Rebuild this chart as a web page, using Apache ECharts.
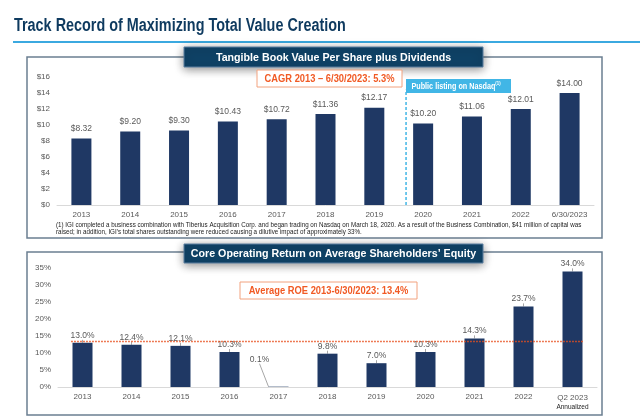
<!DOCTYPE html>
<html><head><meta charset="utf-8">
<script src="https://cdn.jsdelivr.net/npm/echarts@6/dist/echarts.min.js"></script>
<style>html,body{margin:0;padding:0;background:#fff}#c{width:640px;height:417px}</style>
</head><body><div id="c"></div>
<script>
// ---- data ----
const tbvCategories = ['2013','2014','2015','2016','2017','2018','2019','2020','2021','2022','6/30/2023'];
const tbvValues = [8.32, 9.20, 9.30, 10.43, 10.72, 11.36, 12.17, 10.20, 11.06, 12.01, 14.00];
const tbvAxisMax = 16, tbvAxisStep = 2;
const roeCategories = ['2013','2014','2015','2016','2017','2018','2019','2020','2021','2022','Q2 2023'];
const roeValues = [13.0, 12.4, 12.1, 10.3, 0.1, 9.8, 7.0, 10.3, 14.3, 23.7, 34.0];
const roeAxisMax = 35, roeAxisStep = 5;
const roeAverage = 13.4;
const nasdaqListingPos = 6.65;   // between 2019 and 2020
const nasdaqLineTop = 14.4;

const FONT = '"Liberation Sans",Arial,sans-serif';
const NAVY = '#1f3864';
const GREY = '#595959';

const chart = echarts.init(document.getElementById('c'), null, {renderer: 'canvas'});

function titleBox(x, y, w, h, text) {
  return [
    {type: 'rect', z: 19, shape: {x: x, y: y, width: w, height: h},
     style: {fill: '#0f4266', stroke: '#5a7ea0', lineWidth: 1, shadowBlur: 10, shadowColor: 'rgba(0,0,0,0.45)', shadowOffsetY: 2}},
    {type: 'text', z: 21, x: x + w / 2, y: y + h / 2 + 0.5, scaleX: 0.97,
     style: {text: text, fill: '#fff', font: 'bold 11px ' + FONT, align: 'center', verticalAlign: 'middle',
             shadowBlur: 0, shadowColor: 'rgba(0,0,0,0)', textShadowBlur: 0, textShadowColor: 'rgba(0,0,0,0)'}}
  ];
}
function noteBox(x, y, w, h, text) {
  return [
    {type: 'rect', z: 20, shape: {x: x, y: y, width: w, height: h},
     style: {fill: '#fff', stroke: '#f2a27f', lineWidth: 1}},
    {type: 'text', z: 21, x: x + w / 2, y: y + h / 2 + 0.5, scaleX: 0.85,
     style: {text: text, fill: '#f15a24', font: 'bold 11px ' + FONT, align: 'center', verticalAlign: 'middle'}}
  ];
}

const axisLabel = {color: GREY, fontSize: 8, fontFamily: FONT};

chart.setOption({
  animation: false,
  grid: [
    {left: 57, right: 46, top: 77, bottom: 212},
    {left: 58, right: 43, top: 268, bottom: 30}
  ],
  xAxis: [
    {gridIndex: 0, type: 'category', data: tbvCategories,
     axisLine: {lineStyle: {color: '#d9d9d9'}}, axisTick: {lineStyle: {color: '#d9d9d9'}, length: 4},
     axisLabel: Object.assign({margin: 6, interval: 0}, axisLabel)},
    {gridIndex: 0, type: 'value', min: -0.5, max: 10.5, show: false},
    {gridIndex: 1, type: 'category', data: roeCategories,
     axisLine: {lineStyle: {color: '#d9d9d9'}}, axisTick: {lineStyle: {color: '#d9d9d9'}, length: 4},
     axisLabel: Object.assign({margin: 6, interval: 0,
       formatter: function (v) { return v === 'Q2 2023' ? '{a|' + v + '}\n{b|Annualized}' : v; },
       rich: {a: {color: GREY, fontSize: 8, fontFamily: FONT, lineHeight: 10},
              b: {color: '#222', fontSize: 6.5, fontFamily: FONT, lineHeight: 9}}}, axisLabel)},
    {gridIndex: 1, type: 'value', min: -0.5, max: 10.5, show: false}
  ],
  yAxis: [
    {gridIndex: 0, type: 'value', min: 0, max: tbvAxisMax, interval: tbvAxisStep,
     axisLine: {show: false}, axisTick: {show: false}, splitLine: {show: false},
     axisLabel: Object.assign({margin: 7, formatter: function (v) { return '$' + v; }}, axisLabel)},
    {gridIndex: 1, type: 'value', min: 0, max: roeAxisMax, interval: roeAxisStep,
     axisLine: {show: false}, axisTick: {show: false}, splitLine: {show: false},
     axisLabel: Object.assign({margin: 7, formatter: function (v) { return v + '%'; }}, axisLabel)}
  ],
  series: [
    {type: 'bar', xAxisIndex: 0, yAxisIndex: 0, data: tbvValues, barWidth: 20,
     itemStyle: {color: NAVY},
     label: {show: true, position: 'top', distance: 5, color: GREY, fontSize: 8.5, fontFamily: FONT,
             formatter: function (p) { return '$' + p.value.toFixed(2); }}},
    {type: 'line', xAxisIndex: 1, yAxisIndex: 0, symbol: 'none', z: 5,
     data: [[nasdaqListingPos, 0], [nasdaqListingPos, nasdaqLineTop]],
     lineStyle: {color: '#41b6e6', width: 1.5, type: [3, 2]}},
    {type: 'bar', xAxisIndex: 2, yAxisIndex: 1, data: roeValues, barWidth: 20,
     itemStyle: {color: NAVY},
     label: {show: true, position: 'top', distance: 3, color: GREY, fontSize: 8.5, fontFamily: FONT,
             formatter: function (p) { return p.value.toFixed(1) + '%'; }},
     labelLine: {show: true, lineStyle: {color: '#a6a6a6', width: 1}},
     labelLayout: function (p) { return p.dataIndex === 4 ? {dx: -19, dy: -20} : {}; }},
    {type: 'line', xAxisIndex: 3, yAxisIndex: 1, symbol: 'none', z: 5,
     data: [[-0.23, roeAverage], [10.23, roeAverage]],
     lineStyle: {color: '#e8501e', width: 1.5, type: [1.5, 1.5]}}
  ],
  graphic: [
    {type: 'text', x: 14, y: 17, z: 10, scaleX: 0.8,
     style: {text: 'Track Record of Maximizing Total Value Creation', fill: '#0e3a5f', font: 'bold 18px ' + FONT}},
    {type: 'rect', z: 9, shape: {x: 13, y: 41, width: 627, height: 2}, style: {fill: '#3ba9e0'}},
    {type: 'rect', z: 1, shape: {x: 27, y: 57, width: 575, height: 181}, style: {fill: 'none', stroke: '#6b7f91', lineWidth: 1.5}},
    {type: 'rect', z: 1, shape: {x: 27, y: 252, width: 575, height: 163}, style: {fill: 'none', stroke: '#6b7f91', lineWidth: 1.5}}
  ].concat(
    titleBox(184, 47, 299, 20, 'Tangible Book Value Per Share plus Dividends'),
    titleBox(184, 244, 299, 19, 'Core Operating Return on Average Shareholders\u2019 Equity'),
    noteBox(257, 70, 145, 17, 'CAGR 2013 \u2013 6/30/2023: 5.3%'),
    noteBox(240, 282, 177, 17, 'Average ROE 2013-6/30/2023: 13.4%'),
    [
      {type: 'rect', z: 20, shape: {x: 406, y: 79, width: 105, height: 14}, style: {fill: '#41b6e6'}},
      {type: 'text', z: 21, x: 456, y: 86.5, scaleX: 0.85,
       style: {text: '{a|Public listing on Nasdaq}{s|(1)}', align: 'center', verticalAlign: 'middle',
               rich: {a: {fill: '#fff', font: 'bold 8.5px ' + FONT},
                      s: {fill: '#fff', font: 'bold 5px ' + FONT, verticalAlign: 'top', padding: [0, 0, 5, 0]}}}},
      {type: 'text', x: 56, y: 222, z: 10, scaleX: 0.96,
       style: {text: '(1) IGI completed a business combination with Tiberius Acquisition Corp. and began trading on Nasdaq on March 18, 2020. As a result of the Business Combination, $41 million of capital was\nraised; in addition, IGI\u2019s total shares outstanding were reduced causing a dilutive impact of approximately 33%.',
               fill: '#222', font: '6.5px ' + FONT, lineHeight: 7}}
    ]
  )
});
</script></body></html>
